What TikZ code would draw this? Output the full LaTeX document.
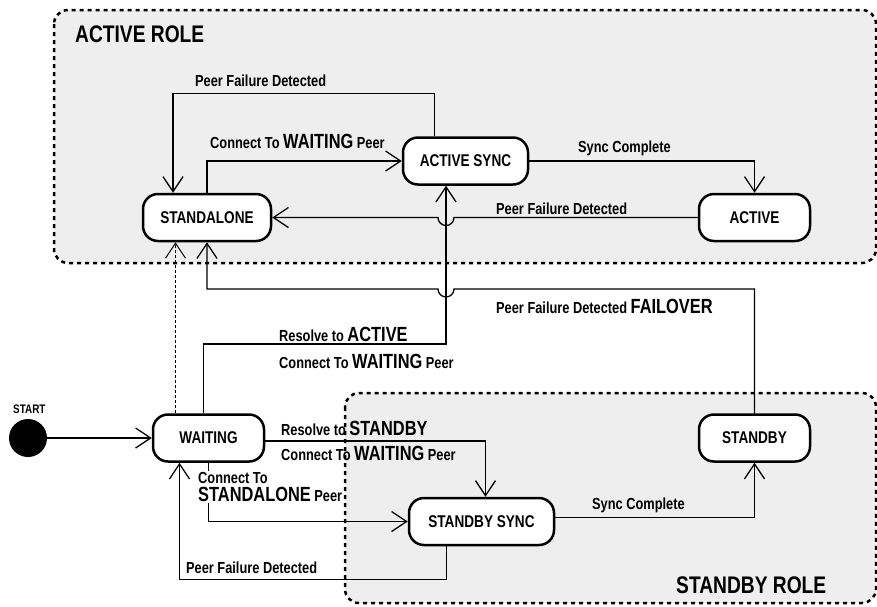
\documentclass[tikz,border=0pt]{standalone}
\usepackage{fontspec}
\setmainfont{Liberation Sans}[FakeStretch=0.8]
\usetikzlibrary{arrows.meta}
\definecolor{roleGray}{HTML}{EEEEEE}
\newcommand{\trfont}{\fontsize{16}{18}\selectfont\bfseries}
\newcommand{\bigword}[1]{{\fontsize{20.5}{22}\selectfont #1}}

\begin{document}
\begin{tikzpicture}[x=1pt,y=-1pt,
  state/.style={draw,fill=white,line width=2.5pt,rounded corners=15pt,minimum height=47pt,font=\fontsize{17}{19}\selectfont\bfseries},
  trans/.style={line width=1.3pt,-{Straight Barb[length=15pt,width=20pt]}},
  lbl/.style={anchor=base west,inner sep=0pt,font=\trfont},
  role/.style={fill=roleGray,dash pattern=on 4pt off 4pt,line width=2.5pt,rounded corners=14pt}]
\useasboundingbox (0,0) rectangle (877,606);

\draw[role] (54,10) rectangle (876,263);
\draw[role] (345,393) rectangle (876,603);
\node[anchor=base west,inner sep=0pt,font=\fontsize{24}{26}\selectfont\bfseries] (activerole) at (75,42) {ACTIVE ROLE};
\node[anchor=base west,inner sep=0pt,font=\fontsize{24}{26}\selectfont\bfseries] (standbyrole) at (676,593) {STANDBY ROLE};

\node[state,minimum width=128pt] (standalone) at (207,217.5) {STANDALONE};
\node[state,minimum width=125pt] (activesync) at (465.5,161) {ACTIVE SYNC};
\node[state,minimum width=111pt] (active) at (754.5,217.5) {ACTIVE};
\node[state,minimum width=111pt] (waiting) at (208.5,438) {WAITING};
\node[state,minimum width=145pt] (standbysync) at (481.5,521.5) {STANDBY SYNC};
\node[state,minimum width=111pt] (standby) at (754.5,438) {STANDBY};
\node[circle,fill=black,minimum size=38pt,inner sep=0pt] (start) at (28,438) {};
\node[anchor=base west,inner sep=0pt,font=\fontsize{12.4}{14}\selectfont\bfseries] (startlbl) at (13,413) {START};
\coordinate (cross) at (446,344);
\coordinate (hop) at (446,289);

\draw[trans] (start) -- (waiting);
\draw[trans] (standalone.north) |- (activesync.west);
\draw[trans] ([xshift=-31pt]activesync.north) -- ++(0,-43) -| ([xshift=-34pt]standalone.north);
\draw[trans] (activesync.east) -| (active.north);
\draw[trans] (active.west) -- ([xshift=8pt]cross |- active.west) arc[start angle=0,end angle=-180,radius=8pt] -- (standalone.east);
\draw[trans] ([xshift=-5pt]waiting.north) |- (cross) -- (cross |- activesync.south);
\draw[trans] (standby.north) |- ([xshift=8pt]hop) arc[start angle=0,end angle=-180,radius=8pt] -| (standalone.south);
\draw[trans,line width=1pt,dash pattern=on 3pt off 2pt] ([xshift=-33pt]waiting.north) -- ([xshift=-33pt]waiting.north |- standalone.south);
\draw[trans] ([yshift=-3pt]waiting.east) -| ([xshift=4pt]standbysync.north);
\draw[trans] (waiting.south) |- (standbysync.west);
\draw[trans] ([xshift=-35pt]standbysync.south) -- ++(0,33) -| ([xshift=-29pt]waiting.south);
\draw[trans] ([yshift=4pt]standbysync.east) -| (standby.south);

\node[lbl] (pfd1) at (195,86) {Peer Failure Detected};
\node[lbl] (ctw1) at (210,148) {Connect To \bigword{WAITING} Peer};
\node[lbl] (sc1) at (578,152) {Sync Complete};
\node[lbl] (pfd2) at (496,214) {Peer Failure Detected};
\node[lbl] (pfd3) at (496,313) {Peer Failure Detected \bigword{FAILOVER}};
\node[lbl] (rta) at (279,341) {Resolve to \bigword{ACTIVE}};
\node[lbl] (ctw2) at (279,368) {Connect To \bigword{WAITING} Peer};
\node[lbl] (rts) at (281,435) {Resolve to \bigword{STANDBY}};
\node[lbl] (ctw3) at (281,460) {Connect To \bigword{WAITING} Peer};
\node[anchor=north west,fill=white,inner sep=1pt,align=left,font=\trfont] (cts) at (197,471) {Connect To\\\bigword{STANDALONE} Peer};
\node[lbl] (pfd4) at (186,573) {Peer Failure Detected};
\node[lbl] (sc2) at (592,509) {Sync Complete};
\end{tikzpicture}
\end{document}
